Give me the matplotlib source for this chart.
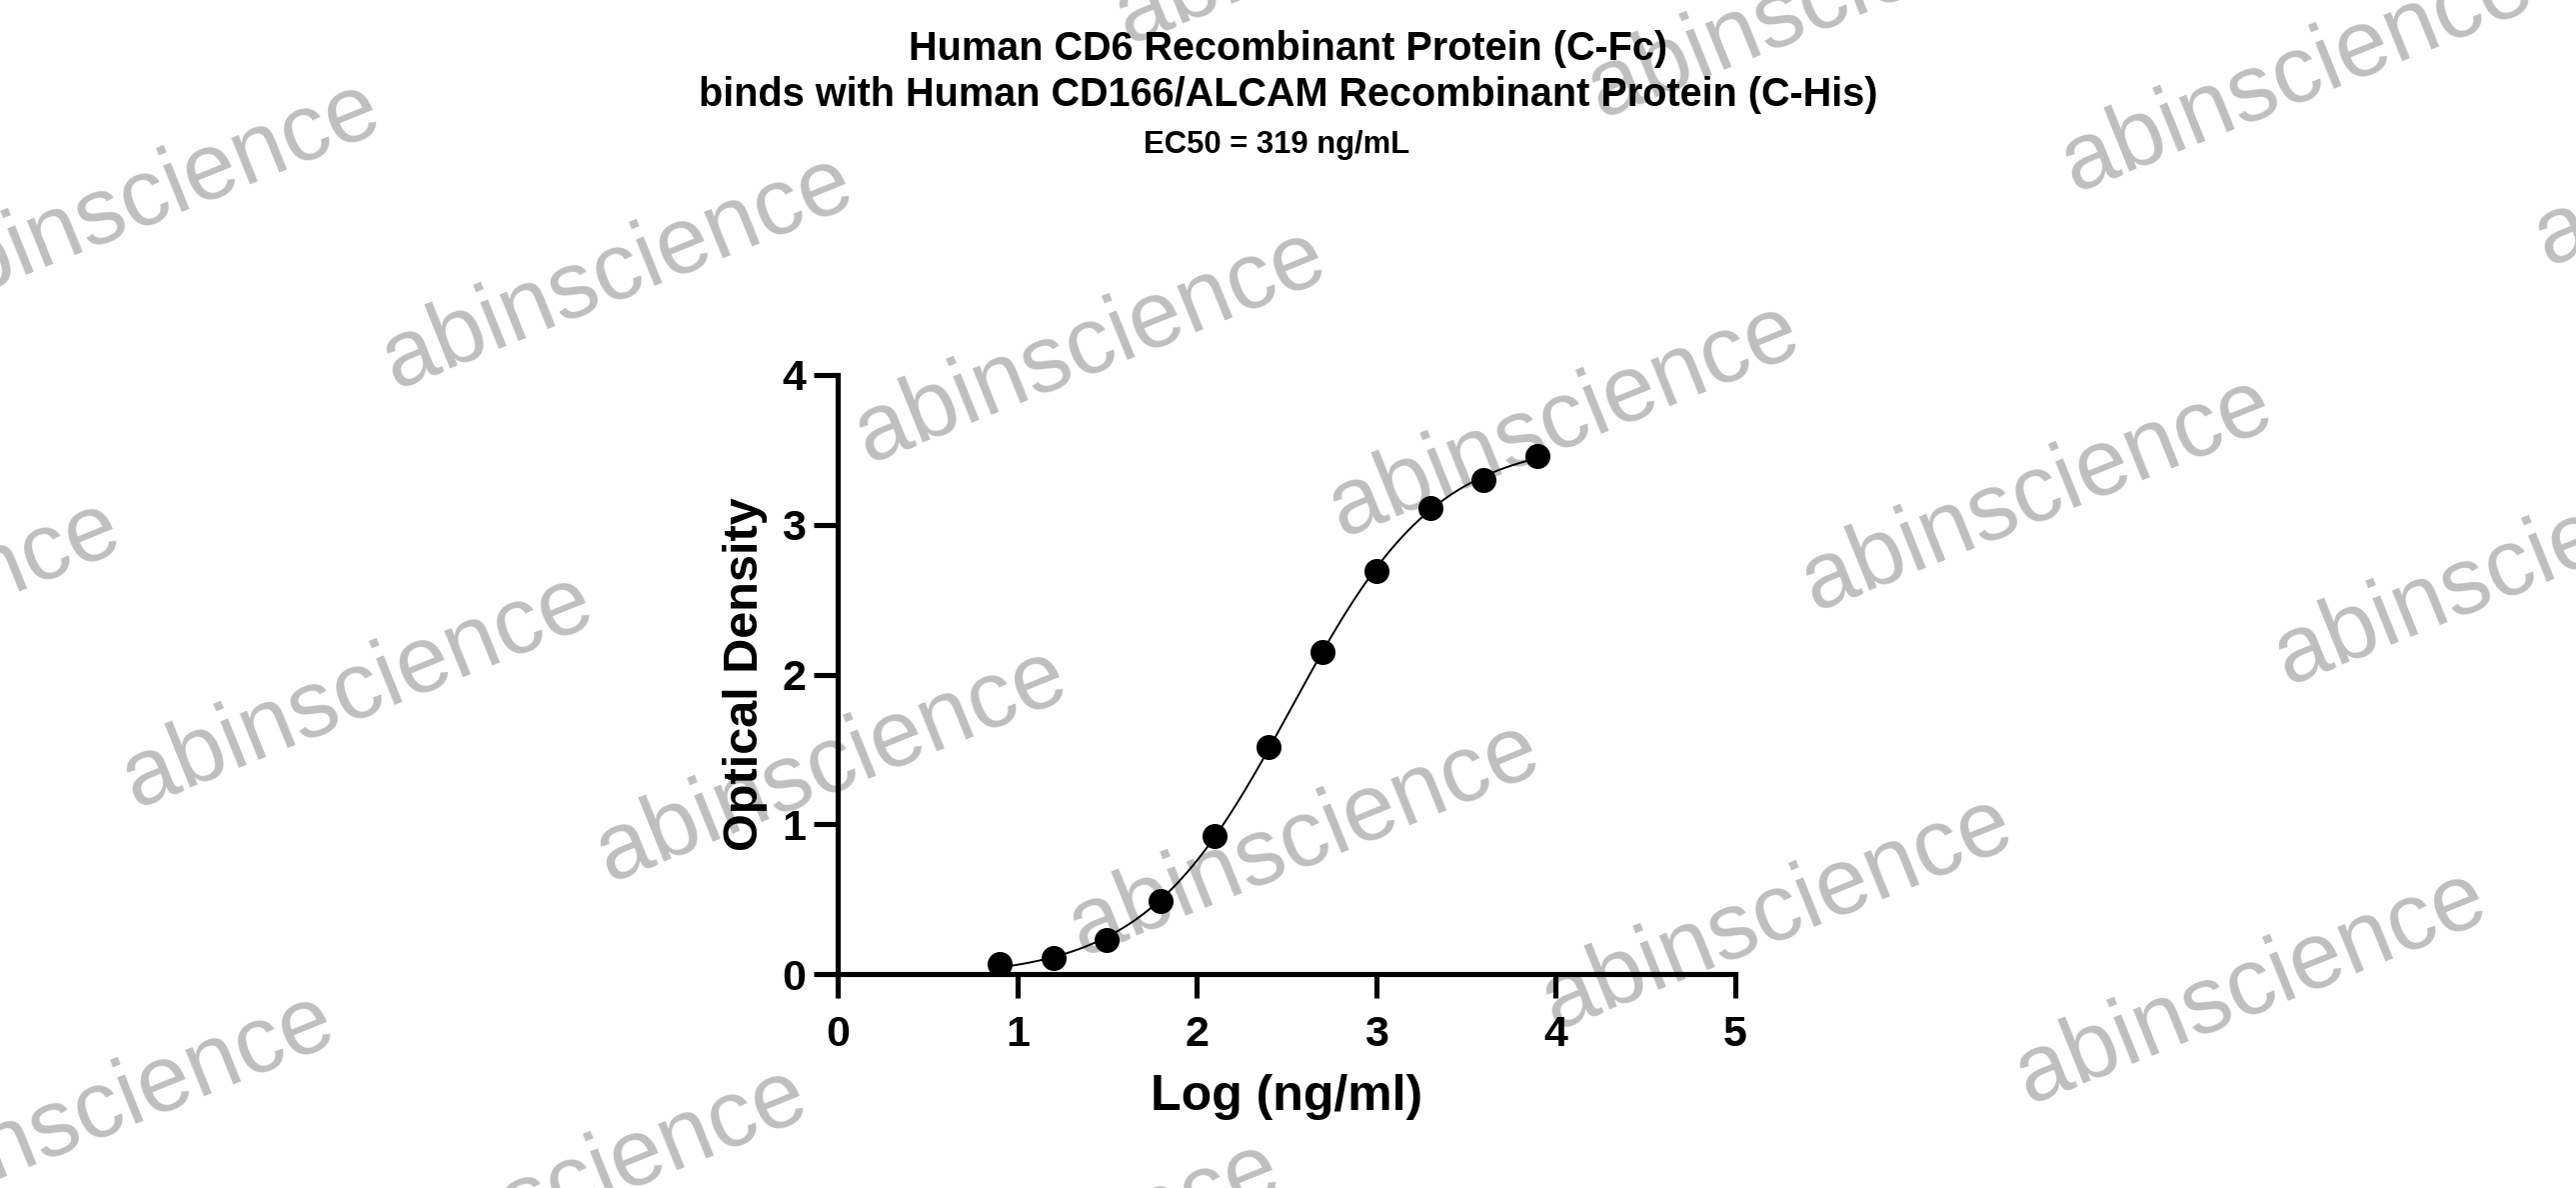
import numpy as np
import matplotlib
matplotlib.use("Agg")
import matplotlib.pyplot as plt

plt.rcParams['font.family'] = ['Liberation Sans', 'DejaVu Sans']
plt.rcParams['font.weight'] = 'bold'

# data
log_conc = [0.90, 1.20, 1.50, 1.80, 2.10, 2.40, 2.70, 3.00, 3.30, 3.60, 3.90]
od = [0.07, 0.11, 0.23, 0.49, 0.92, 1.52, 2.15, 2.69, 3.11, 3.30, 3.46]

title_lines = ["Human CD6 Recombinant Protein (C-Fc)",
               "binds with Human CD166/ALCAM Recombinant Protein (C-His)"]
ec50_text = "EC50 = 319 ng/mL"
xlabel = "Log (ng/ml)"
ylabel = "Optical Density"
xticks = [0, 1, 2, 3, 4, 5]
yticks = [0, 1, 2, 3, 4]
watermark = "abinscience"


def four_pl(x, p):
    bottom, top, logec, hill = p
    return bottom + (top - bottom) / (1 + 10 ** ((logec - x) * hill))


# simple Levenberg-Marquardt fit of the 4PL curve
def fit_4pl(x, y, p0, n_iter=200):
    p = np.array(p0, dtype=float)
    lam = 1e-2
    for _ in range(n_iter):
        r = y - four_pl(x, p)
        J = np.zeros((len(x), len(p)))
        for j in range(len(p)):
            dp = np.zeros_like(p)
            dp[j] = 1e-6
            J[:, j] = (four_pl(x, p + dp) - four_pl(x, p - dp)) / 2e-6
        A = J.T @ J
        g = J.T @ r
        step = np.linalg.solve(A + lam * np.diag(np.diag(A)), g)
        p_new = p + step
        if np.sum((y - four_pl(x, p_new)) ** 2) < np.sum(r ** 2):
            p = p_new
            lam *= 0.5
        else:
            lam *= 2
    return p


x = np.array(log_conc)
y = np.array(od)
params = fit_4pl(x, y, [0.0, 3.6, 2.5, 1.0])

fig = plt.figure(figsize=(25.77, 11.88), dpi=100)
fig.patch.set_facecolor('white')

# watermark grid (behind everything)
u = np.array([288, 45])
v = np.array([130, 300])
origin = np.array([88, 121])
for i in range(-2, 7):
    for j in range(-2, 4):
        cx, cy = origin + i * u + j * v
        if cx > 1600 and cy > 500:
            continue
        if -300 < cx < 1870 and -150 < cy < 880:
            fig.text(cx / 1568, 1 - cy / 723, watermark, fontsize=68,
                     fontweight='normal', color='#bfbfbf', rotation=22,
                     ha='center', va='center', rotation_mode='anchor',
                     zorder=-5)

ax = fig.add_axes([0.3253, 0.1798, 0.6735 - 0.3253, 0.6846 - 0.1798])
ax.set_facecolor('none')

xs = np.linspace(min(log_conc), max(log_conc), 300)
ax.plot(xs, four_pl(xs, params), color='black', lw=1.4, zorder=3)
ax.plot(log_conc, od, 'o', color='black', markersize=17, zorder=4,
        clip_on=False)

ax.set_xlim(0, 5)
ax.set_ylim(0, 4)
ax.set_xticks(xticks)
ax.set_yticks(yticks)
for s in ['top', 'right']:
    ax.spines[s].set_visible(False)
for s in ['left', 'bottom']:
    ax.spines[s].set_linewidth(3.7)
ax.tick_params(width=3.7, length=17, labelsize=31)
ax.tick_params(axis='x', pad=12)
ax.tick_params(axis='y', pad=6)
ax.set_xlabel(xlabel, fontsize=36, fontweight='bold', labelpad=14)
ax.set_ylabel(ylabel, fontsize=35, fontweight='bold', labelpad=10)

fig.text(0.5, 0.9585, title_lines[0], fontsize=28.5, fontweight='bold',
         ha='center', va='center')
fig.text(0.5, 0.9198, title_lines[1], fontsize=28.5, fontweight='bold',
         ha='center', va='center')
fig.text(0.4955, 0.878, ec50_text, fontsize=22.3, fontweight='bold',
         ha='center', va='center')

fig.savefig('out.png', dpi=100)
